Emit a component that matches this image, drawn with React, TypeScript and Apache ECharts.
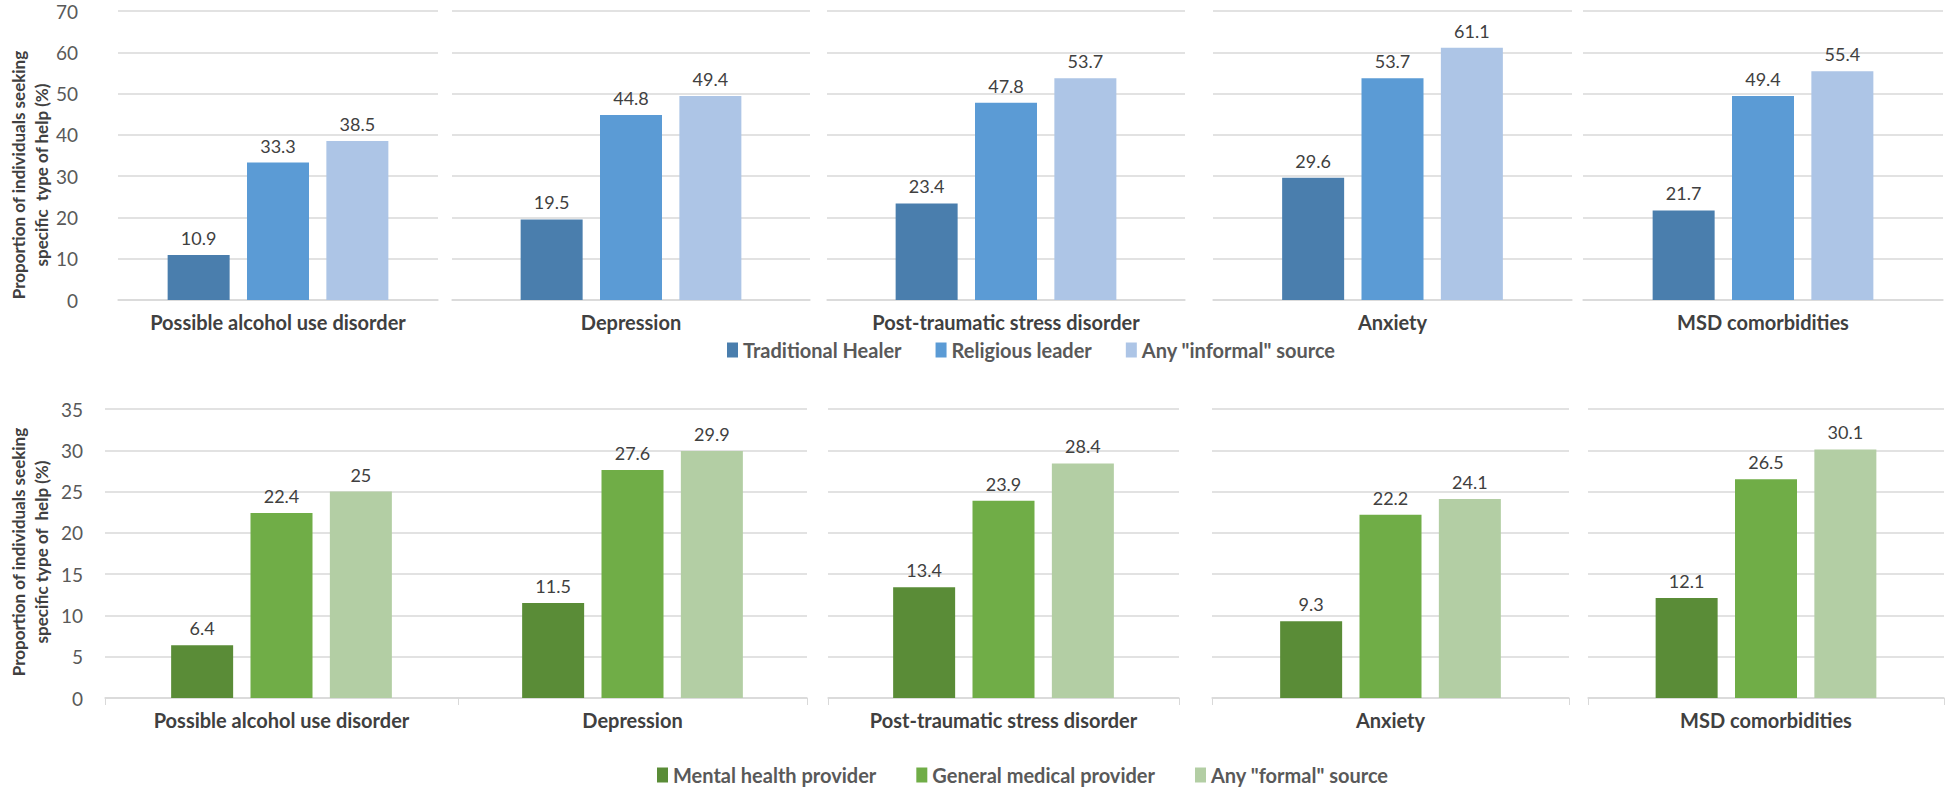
import React, { useEffect, useRef } from "react";
import * as echarts from "echarts";

const categories = [
  "Possible alcohol use disorder",
  "Depression",
  "Post-traumatic stress disorder",
  "Anxiety",
  "MSD comorbidities",
];

const informalNames = ["Traditional Healer", "Religious leader", 'Any "informal" source'];
const traditionalHealer = [10.9, 19.5, 23.4, 29.6, 21.7];
const religiousLeader = [33.3, 44.8, 47.8, 53.7, 49.4];
const anyInformal = [38.5, 49.4, 53.7, 61.1, 55.4];

const formalNames = ["Mental health provider", "General medical provider", 'Any "formal" source'];
const mentalHealthProvider = [6.4, 11.5, 13.4, 9.3, 12.1];
const generalMedicalProvider = [22.4, 27.6, 23.9, 22.2, 26.5];
const anyFormal = [25, 29.9, 28.4, 24.1, 30.1];

const topAxis = { min: 0, max: 70, interval: 10 };
const bottomAxis = { min: 0, max: 35, interval: 5 };

const informalColors = ["#4A7EAD", "#5B9BD5", "#ADC5E6"];
const formalColors = ["#5A8C37", "#70AD47", "#B3CEA4"];

// layout (pixels)
const topPanels = [
  [118, 438],
  [452, 810],
  [827, 1185],
  [1213, 1572],
  [1583, 1943],
];
const bottomPanels = [
  [105, 458],
  [458, 807],
  [828, 1179],
  [1212, 1569],
  [1588, 1944],
];

const FONT = "Lato, 'Open Sans', sans-serif";

export default function App() {
  const ref = useRef<HTMLDivElement>(null);

  useEffect(() => {
    if (!ref.current) return;
    const chart = echarts.init(ref.current, null, { renderer: "svg" });

    const grids: any[] = [];
    const xAxes: any[] = [];
    const yAxes: any[] = [];
    const series: any[] = [];

    const rows = [
      {
        panels: topPanels,
        top: 11,
        height: 289,
        axis: topAxis,
        names: informalNames,
        colors: informalColors,
        values: [traditionalHealer, religiousLeader, anyInformal],
        labelMargin: 40,
        ticks: false,
      },
      {
        panels: bottomPanels,
        top: 409,
        height: 289,
        axis: bottomAxis,
        names: formalNames,
        colors: formalColors,
        values: [mentalHealthProvider, generalMedicalProvider, anyFormal],
        labelMargin: 22,
        ticks: true,
      },
    ];

    rows.forEach((row) => {
      row.panels.forEach((p, i) => {
        const gi = grids.length;
        grids.push({
          show: false,
          left: p[0],
          width: p[1] - p[0],
          top: row.top,
          height: row.height,
        });
        xAxes.push({
          type: "category",
          gridIndex: gi,
          data: [categories[i]],
          axisLine: { show: true, lineStyle: { color: "#D9D9D9", width: 1.5 } },
          axisTick: { show: row.ticks, length: 7, lineStyle: { color: "#D9D9D9" } },
          splitLine: { show: false },
          axisLabel: {
            fontFamily: FONT,
            fontSize: 20,
            fontWeight: "bold",
            color: "#404040",
            margin: 12,
          },
        });
        yAxes.push({
          type: "value",
          gridIndex: gi,
          min: row.axis.min,
          max: row.axis.max,
          interval: row.axis.interval,
          axisLine: { show: false },
          axisTick: { show: false },
          axisLabel: {
            show: i === 0,
            fontFamily: FONT,
            fontSize: 19,
            color: "#595959",
            margin: row.labelMargin,
          },
          splitLine: { show: true, lineStyle: { color: "#D9D9D9", width: 1.5 } },
        });
        row.values.forEach((vals, s) => {
          series.push({
            type: "bar",
            name: row.names[s],
            xAxisIndex: gi,
            yAxisIndex: gi,
            data: [vals[i]],
            barWidth: 62,
            barGap: "28%",
            itemStyle: { color: row.colors[s] },
            label: {
              show: true,
              position: "top",
              distance: 8,
              fontFamily: FONT,
              fontSize: 18,
              color: "#404040",
            },
          });
        });
      });
    });

    const legendCommon = {
      orient: "horizontal",
      itemWidth: 11,
      itemHeight: 15,
      icon: "rect",
      textStyle: {
        fontFamily: FONT,
        fontSize: 20,
        fontWeight: "bold",
        color: "#595959",
      },
    };

    chart.setOption({
      animation: false,
      backgroundColor: "#ffffff",
      grid: grids,
      xAxis: xAxes,
      yAxis: yAxes,
      series,
      legend: [
        { ...legendCommon, data: informalNames, left: 722, top: 335, itemGap: 34 },
        { ...legendCommon, data: formalNames, left: 652, top: 760, itemGap: 40 },
      ],
      graphic: [
        {
          type: "text",
          x: 30,
          y: 175,
          rotation: Math.PI / 2,
          style: {
            text: "Proportion of individuals seeking\nspecific  type of help (%)",
            fontFamily: FONT,
            fontSize: 17,
            fontWeight: "bold",
            lineHeight: 23,
            fill: "#404040",
            align: "center",
            verticalAlign: "middle",
          },
        },
        {
          type: "text",
          x: 30,
          y: 552,
          rotation: Math.PI / 2,
          style: {
            text: "Proportion of individuals seeking\nspecific type of  help (%)",
            fontFamily: FONT,
            fontSize: 17,
            fontWeight: "bold",
            lineHeight: 23,
            fill: "#404040",
            align: "center",
            verticalAlign: "middle",
          },
        },
      ],
    });

    return () => chart.dispose();
  }, []);

  return (
    <div
      ref={ref}
      style={{ position: "fixed", left: 0, top: 0, width: 1946, height: 789, background: "#fff" }}
    />
  );
}
